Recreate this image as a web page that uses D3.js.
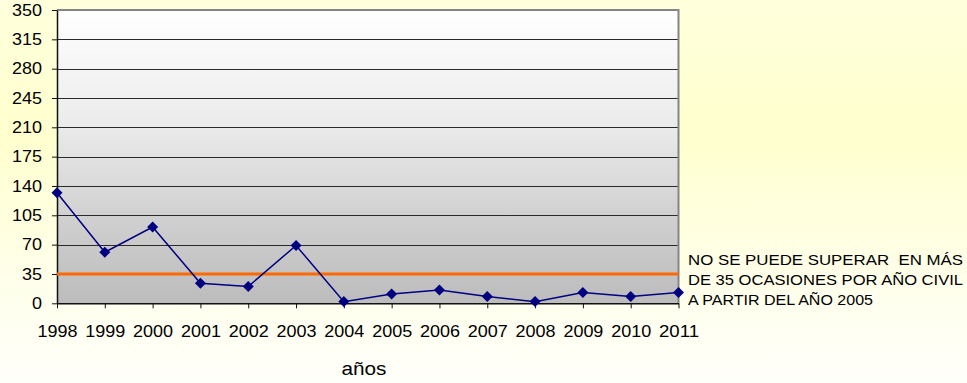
<!DOCTYPE html>
<html>
<head>
<meta charset="utf-8">
<script src="https://cdn.jsdelivr.net/npm/d3@7"></script>
<style>
  html, body { margin: 0; padding: 0; overflow: hidden; }
  svg { display: block; font-family: "Liberation Sans", Arial, sans-serif; }
</style>
</head>
<body>
<svg id="chart" width="967" height="383"></svg>
<script>
// Exceedance counts per year
const years = ["1998","1999","2000","2001","2002","2003","2004","2005","2006","2007","2008","2009","2010","2011"];
const exceedances = [132, 61, 91, 24, 20, 69, 2, 11, 16, 8, 2, 13, 8, 13];
const yTicks = [0, 35, 70, 105, 140, 175, 210, 245, 280, 315, 350];
const limitValue = 35;
const limitNote = ["NO SE PUEDE SUPERAR  EN MÁS", "DE 35 OCASIONES POR AÑO CIVIL", "A PARTIR DEL AÑO 2005"];
const xTitle = "años";

const W = 967, H = 383;
const m = { left: 57, right: 967 - 678.5, top: 10, bottom: 383 - 303.3 };
const svg = d3.select("#chart");
const defs = svg.append("defs");

// Page background: pale yellow fading to white
const bg = defs.append("linearGradient").attr("id", "bg").attr("x1", 0).attr("y1", 0).attr("x2", 0).attr("y2", 1);
bg.append("stop").attr("offset", "0").attr("stop-color", "#ffffdc");
bg.append("stop").attr("offset", "0.35").attr("stop-color", "#ffffce");
bg.append("stop").attr("offset", "0.75").attr("stop-color", "#ffffec");
bg.append("stop").attr("offset", "1").attr("stop-color", "#fffffa");
svg.append("rect").attr("width", W).attr("height", H).attr("fill", "url(#bg)");

// Plot area: white to grey
const pg = defs.append("linearGradient").attr("id", "plotbg").attr("x1", 0).attr("y1", 0).attr("x2", 0).attr("y2", 1);
pg.append("stop").attr("offset", "0").attr("stop-color", "#ffffff");
pg.append("stop").attr("offset", "0.38").attr("stop-color", "#ececec");
pg.append("stop").attr("offset", "0.72").attr("stop-color", "#cfcfcf");
pg.append("stop").attr("offset", "1").attr("stop-color", "#bcbcbc");

const x = d3.scalePoint().domain(years).range([m.left, W - m.right]).padding(0);
const y = d3.scaleLinear().domain([0, 350]).range([H - m.bottom, m.top]);

const pw = W - m.right - m.left, ph = H - m.bottom - m.top;
svg.append("rect").attr("x", m.left).attr("y", m.top).attr("width", pw).attr("height", ph)
  .attr("fill", "url(#plotbg)");

// Horizontal grid lines
svg.append("g").selectAll("line").data(yTicks.filter(d => d > 0 && d < 350)).join("line")
  .attr("x1", m.left).attr("x2", W - m.right)
  .attr("y1", d => Math.round(y(d)) + 0.5).attr("y2", d => Math.round(y(d)) + 0.5)
  .attr("stroke", "#2a2a2a").attr("stroke-width", 1);

// Plot frame (top and right)
svg.append("path")
  .attr("d", `M${m.left},${m.top} H${W - m.right} V${H - m.bottom}`)
  .attr("fill", "none").attr("stroke", "#858585").attr("stroke-width", 2);

// Y axis
const yAxis = svg.append("g").attr("transform", `translate(${m.left},0)`)
  .call(d3.axisLeft(y).tickValues(yTicks).tickSize(5).tickSizeOuter(0).tickPadding(10));
yAxis.select(".domain").attr("stroke", "#111").attr("stroke-width", 1.5);
yAxis.selectAll(".tick line").attr("stroke", "#111");
yAxis.selectAll(".tick text")
  .attr("font-size", 16.5).attr("fill", "#000")
  .attr("font-family", "Liberation Sans, Arial, sans-serif")
  .attr("textLength", d => String(d).length * 10)
  .attr("lengthAdjust", "spacingAndGlyphs");

// X axis
const xAxis = svg.append("g").attr("transform", `translate(0,${H - m.bottom})`)
  .call(d3.axisBottom(x).tickSize(5).tickSizeOuter(0).tickPadding(17));
xAxis.select(".domain").attr("stroke", "#111").attr("stroke-width", 1.5);
xAxis.selectAll(".tick line").attr("stroke", "#111");
xAxis.selectAll(".tick text")
  .attr("font-size", 16.5).attr("fill", "#000")
  .attr("font-family", "Liberation Sans, Arial, sans-serif")
  .attr("textLength", 40)
  .attr("lengthAdjust", "spacingAndGlyphs");

// Limit line
svg.append("line")
  .attr("x1", m.left).attr("x2", W - m.right)
  .attr("y1", y(limitValue)).attr("y2", y(limitValue))
  .attr("stroke", "#ff6a00").attr("stroke-width", 3);

// Series line
svg.append("path")
  .datum(exceedances)
  .attr("d", d3.line().x((d, i) => x(years[i])).y(d => y(d)))
  .attr("fill", "none").attr("stroke", "#000080").attr("stroke-width", 1.5);

// Diamond markers
svg.append("g").selectAll("path").data(exceedances).join("path")
  .attr("transform", (d, i) => `translate(${x(years[i])},${y(d)})`)
  .attr("d", "M0,-5.5 L5.5,0 L0,5.5 L-5.5,0 Z")
  .attr("fill", "#000080");

// Axis title
svg.append("text").attr("x", 364).attr("y", 375).attr("text-anchor", "middle")
  .attr("font-size", 18).attr("fill", "#000")
  .attr("textLength", 45).attr("lengthAdjust", "spacingAndGlyphs")
  .text(xTitle);

// Limit annotation
const noteWidths = [275, 275, 185];
svg.append("g").selectAll("text").data(limitNote).join("text")
  .attr("x", 688).attr("y", (d, i) => 265 + i * 20)
  .attr("font-size", 14.5).attr("fill", "#000")
  .style("white-space", "pre")
  .attr("textLength", (d, i) => noteWidths[i])
  .attr("lengthAdjust", "spacingAndGlyphs")
  .text(d => d);
</script>
</body>
</html>
